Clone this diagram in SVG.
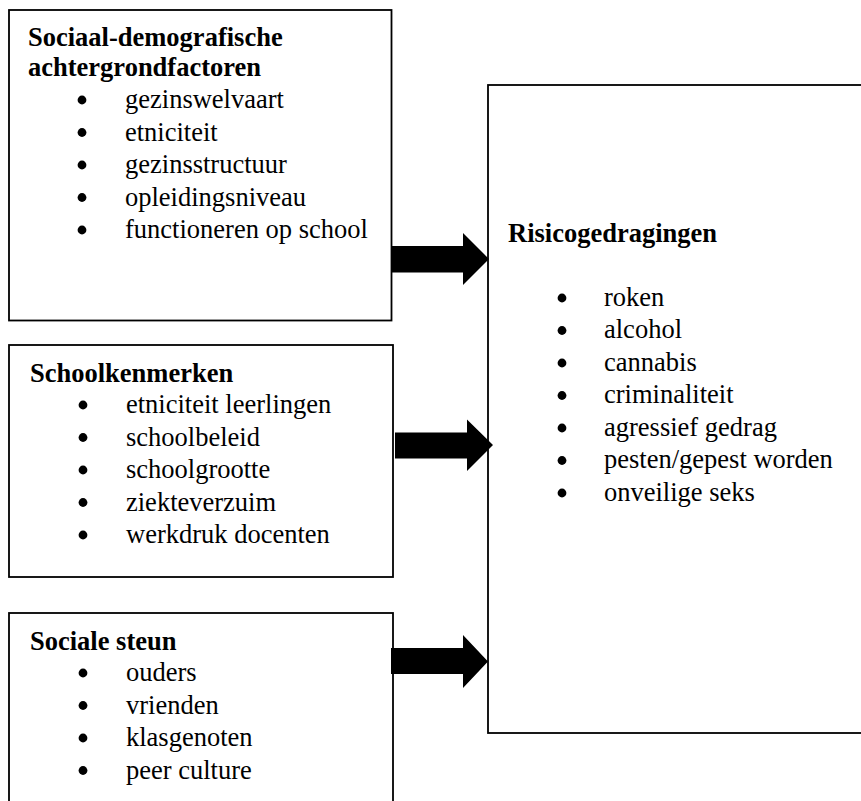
<svg xmlns="http://www.w3.org/2000/svg" width="861" height="801" viewBox="0 0 861 801">
<style>
  .box { fill: #fff; stroke: #000; stroke-width: 1.8; }
  .t { font-family: "Liberation Serif", "Times New Roman", serif; font-size: 26.5px; font-weight: normal; fill: #000; }
  .h { font-weight: bold; }
  .arrow { fill: #000; }
  .dot { fill: #000; }
</style>
<rect width="861" height="801" fill="#fff"/>

<g id="node-sociaal">
  <rect class="box" x="9" y="10" width="382.5" height="310.5"/>
  <text class="t h" x="28" y="46">Sociaal-demografische</text>
  <text class="t h" x="28" y="76">achtergrondfactoren</text>
  <circle class="dot" cx="82" cy="100" r="4.4"/><text class="t" x="125" y="108">gezinswelvaart</text>
  <circle class="dot" cx="82" cy="132.5" r="4.4"/><text class="t" x="125" y="140.5">etniciteit</text>
  <circle class="dot" cx="82" cy="165" r="4.4"/><text class="t" x="125" y="173">gezinsstructuur</text>
  <circle class="dot" cx="82" cy="197.5" r="4.4"/><text class="t" x="125" y="205.5">opleidingsniveau</text>
  <circle class="dot" cx="82" cy="230" r="4.4"/><text class="t" x="125" y="238">functioneren op school</text>
</g>

<g id="node-school">
  <rect class="box" x="9" y="345" width="384" height="232"/>
  <text class="t h" x="30" y="381.5">Schoolkenmerken</text>
  <circle class="dot" cx="83" cy="405" r="4.4"/><text class="t" x="126" y="413">etniciteit leerlingen</text>
  <circle class="dot" cx="83" cy="437.5" r="4.4"/><text class="t" x="126" y="445.5">schoolbeleid</text>
  <circle class="dot" cx="83" cy="470" r="4.4"/><text class="t" x="126" y="478">schoolgrootte</text>
  <circle class="dot" cx="83" cy="502.5" r="4.4"/><text class="t" x="126" y="510.5">ziekteverzuim</text>
  <circle class="dot" cx="83" cy="535" r="4.4"/><text class="t" x="126" y="543">werkdruk docenten</text>
</g>

<g id="node-steun">
  <rect class="box" x="9" y="613" width="384" height="200"/>
  <text class="t h" x="30" y="649.5">Sociale steun</text>
  <circle class="dot" cx="83" cy="673" r="4.4"/><text class="t" x="126" y="681">ouders</text>
  <circle class="dot" cx="83" cy="705.5" r="4.4"/><text class="t" x="126" y="713.5">vrienden</text>
  <circle class="dot" cx="83" cy="738" r="4.4"/><text class="t" x="126" y="746">klasgenoten</text>
  <circle class="dot" cx="83" cy="770.5" r="4.4"/><text class="t" x="126" y="778.5">peer culture</text>
</g>

<g id="node-risico">
  <rect class="box" x="488" y="85" width="400" height="648"/>
  <text class="t h" x="508" y="242">Risicogedragingen</text>
  <circle class="dot" cx="562" cy="298" r="4.4"/><text class="t" x="604" y="305.5">roken</text>
  <circle class="dot" cx="562" cy="330.5" r="4.4"/><text class="t" x="604" y="338">alcohol</text>
  <circle class="dot" cx="562" cy="363" r="4.4"/><text class="t" x="604" y="370.5">cannabis</text>
  <circle class="dot" cx="562" cy="395.5" r="4.4"/><text class="t" x="604" y="403">criminaliteit</text>
  <circle class="dot" cx="562" cy="428" r="4.4"/><text class="t" x="604" y="435.5">agressief gedrag</text>
  <circle class="dot" cx="562" cy="460.5" r="4.4"/><text class="t" x="604" y="468">pesten/gepest worden</text>
  <circle class="dot" cx="562" cy="493" r="4.4"/><text class="t" x="604" y="500.5">onveilige seks</text>
</g>

<g id="connectors">
  <polygon class="arrow" points="392,246 463,246 463,233 489,259 463,285 463,272.5 392,272.5"/>
  <polygon class="arrow" points="395,432.5 467,432.5 467,419.5 493,445 467,471 467,458.5 395,458.5"/>
  <polygon class="arrow" points="391,648 463,648 463,635 488,661.5 463,688 463,674 391,674"/>
</g>
</svg>
